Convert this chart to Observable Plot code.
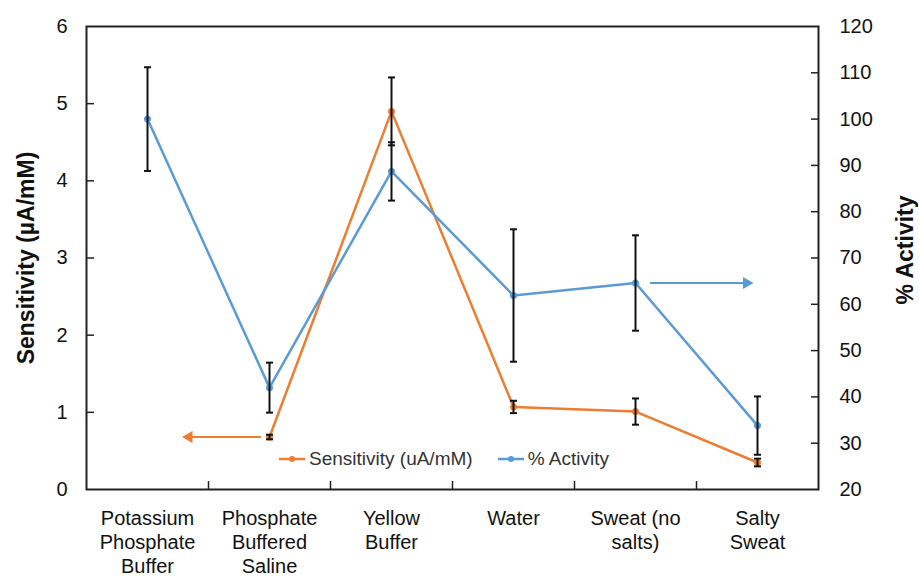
<!DOCTYPE html>
<html>
<head>
<meta charset="utf-8">
<script src="https://cdn.jsdelivr.net/npm/d3@7"></script>
<script src="https://cdn.jsdelivr.net/npm/@observablehq/plot@0.6"></script>
<style>
  body { margin: 0; background: #fff; }
  #wrap { position: relative; width: 919px; height: 578px; font-family: "Liberation Sans", Arial, sans-serif; }
  #legend { position: absolute; left: 278px; top: 448px; display: flex; align-items: center; font-size: 19px; color: #333; white-space: nowrap; }
  #legend .item { display: flex; align-items: center; margin-right: 24px; }
  #legend svg { margin-right: 3px; }
</style>
</head>
<body>
<div id="wrap"></div>
<script>
const categories = ["Potassium\nPhosphate\nBuffer", "Phosphate\nBuffered\nSaline", "Yellow\nBuffer", "Water", "Sweat (no\nsalts)", "Salty\nSweat"];
const sensitivity = [null, 0.68, 4.90, 1.07, 1.01, 0.35];
const sensitivityErr = [null, 0.03, 0.44, 0.08, 0.17, 0.05];
const activity = [100, 42.0, 88.7, 61.9, 64.6, 33.8];
const activityErr = [11.2, 5.4, 6.3, 14.3, 10.3, 6.3];
const leftTicks = [0, 1, 2, 3, 4, 5, 6];
const rightTicks = [20, 30, 40, 50, 60, 70, 80, 90, 100, 110, 120];
const seriesNames = ["Sensitivity (uA/mM)", "% Activity"];
const colors = ["#ED7D31", "#5B9BD5"];
// arrows pointing to the axis each series uses: category index, from offset, to offset
const arrowSens = {cat: 1, from: -0.07, to: -0.66};
const arrowAct = {cat: 4, from: 0.12, to: 0.91};

// right axis (% activity 20..120) mapped onto left axis units (0..6)
const toLeft = a => (a - 20) * 6 / 100;

const sens = categories.map((c, i) => ({i, v: sensitivity[i], e: sensitivityErr[i]})).filter(d => d.v != null);
const act = categories.map((c, i) => ({i, v: toLeft(activity[i]), e: toLeft(activity[i] + activityErr[i]) - toLeft(activity[i])}));
const errs = [...sens, ...act];

const capSymbol = {
  draw(ctx, size) {
    const r = Math.sqrt(size / Math.PI);
    ctx.moveTo(-r, 0);
    ctx.lineTo(r, 0);
  }
};

const font = "Liberation Sans, Arial, sans-serif";

const arrows = [
  {x1: arrowSens.cat + arrowSens.from, x2: arrowSens.cat + arrowSens.to, y: sensitivity[arrowSens.cat], c: colors[0]},
  {x1: arrowAct.cat + arrowAct.from, x2: arrowAct.cat + arrowAct.to, y: toLeft(activity[arrowAct.cat]), c: colors[1]}
];

const chart = Plot.plot({
  width: 919,
  height: 578,
  marginLeft: 86,
  marginRight: 101,
  marginTop: 26,
  marginBottom: 89,
  style: {fontFamily: font, background: "#fff", color: "#111"},
  x: {domain: [-0.5, 5.5], axis: null},
  y: {domain: [0, 6], axis: null},
  marks: [
    // left axis labels and inward ticks
    Plot.axisY(leftTicks, {anchor: "left", tickSize: 0, tickPadding: 19, fontSize: 20, label: null, tickFormat: d => String(d)}),
    Plot.axisY(leftTicks.slice(1, -1), {anchor: "left", tickSize: 8, dx: 8, tickFormat: () => "", label: null, stroke: "#222", strokeWidth: 1.5}),
    // right axis
    Plot.axisY(rightTicks.map(toLeft), {anchor: "right", tickSize: 0, tickPadding: 21, fontSize: 20, label: null, tickFormat: d => String(Math.round(d * 100 / 6 + 20))}),
    Plot.axisY(rightTicks.slice(1, -1).map(toLeft), {anchor: "right", tickSize: 8, dx: -8, tickFormat: () => "", label: null, stroke: "#222", strokeWidth: 1.5}),
    // x axis category labels
    Plot.axisX(d3.range(categories.length), {anchor: "bottom", tickSize: 0, tickPadding: 18, fontSize: 20, lineHeight: 1.2, tickFormat: i => categories[i], label: null}),
    Plot.axisX(d3.range(categories.length - 1).map(i => i + 0.5), {anchor: "bottom", tickSize: 8, dy: -8, tickFormat: () => "", label: null, stroke: "#222", strokeWidth: 1.5}),
    Plot.frame({stroke: "#222", strokeWidth: 2}),
    // series lines
    Plot.line(sens, {x: "i", y: "v", stroke: colors[0], strokeWidth: 2.5}),
    Plot.line(act, {x: "i", y: "v", stroke: colors[1], strokeWidth: 2.5}),
    Plot.dot(sens, {x: "i", y: "v", fill: colors[0], r: 3.5}),
    Plot.dot(act, {x: "i", y: "v", fill: colors[1], r: 3.5}),
    // error bars
    Plot.ruleX(errs, {x: "i", y1: d => d.v - d.e, y2: d => d.v + d.e, stroke: "#111", strokeWidth: 2}),
    Plot.dot(errs, {x: "i", y: d => d.v - d.e, symbol: capSymbol, r: 3.5, stroke: "#111", strokeWidth: 2}),
    Plot.dot(errs, {x: "i", y: d => d.v + d.e, symbol: capSymbol, r: 3.5, stroke: "#111", strokeWidth: 2}),
    // axis indicator arrows (shaft + filled triangular head)
    Plot.link(arrows, {x1: "x1", x2: "x2", y1: "y", y2: "y", stroke: "c", strokeWidth: 2}),
    Plot.dot(arrows, {x: "x2", y: "y", symbol: "triangle", rotate: d => (d.x2 < d.x1 ? -90 : 90), fill: "c", stroke: "none", r: 4.5}),
    // axis titles
    Plot.text(["Sensitivity (µA/mM)"], {frameAnchor: "left", textAnchor: "middle", rotate: -90, dx: -60, fontSize: 23, fontWeight: "bold", fill: "#111"}),
    Plot.text(["% Activity"], {frameAnchor: "right", textAnchor: "middle", rotate: -90, dx: 87, dy: -8, fontSize: 23, fontWeight: "bold", fill: "#111"})
  ]
});

const wrap = document.getElementById("wrap");
wrap.appendChild(chart);

const legend = document.createElement("div");
legend.id = "legend";
seriesNames.forEach((name, k) => {
  const item = document.createElement("div");
  item.className = "item";
  item.innerHTML = `<svg width="28" height="12"><line x1="1" x2="27" y1="6" y2="6" stroke="${colors[k]}" stroke-width="2.5"/><circle cx="14" cy="6" r="3" fill="${colors[k]}"/></svg><span>${name}</span>`;
  legend.appendChild(item);
});
wrap.appendChild(legend);
</script>
</body>
</html>
